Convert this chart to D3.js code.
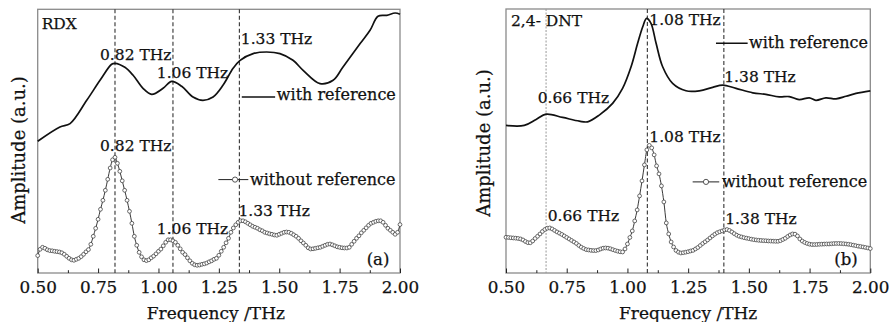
<!DOCTYPE html>
<html><head><meta charset="utf-8">
<script src="https://cdn.jsdelivr.net/npm/d3@7"></script>
<style>
body{margin:0;background:#fff}
text{font-family:"DejaVu Serif","Liberation Serif",serif;fill:#111;stroke:#111;stroke-width:0.25px}
</style>
</head><body>
<svg id="chart" width="892" height="322"></svg>
<script>
// ---------- data ----------
const xTicks = [0.50, 0.75, 1.00, 1.25, 1.50, 1.75, 2.00];
const xTickLabels = ["0.50", "0.75", "1.00", "1.25", "1.50", "1.75", "2.00"];
const xMinorTicks = [0.625, 0.875, 1.125, 1.375, 1.625, 1.875];
const freqStart = 0.50, freqStep = 0.01;  // sampling grid of the "without reference" spectra

// RDX, with reference (solid line)
const rdxWithFreq = [0.50,0.592,0.634,0.703,0.758,0.806,0.82,0.861,0.895,0.936,0.972,1.019,1.055,1.096,1.143,1.184,1.226,1.267,1.309,1.338,1.392,1.448,1.503,1.557,1.599,1.669,1.723,1.764,1.835,1.876,1.909,1.945,1.980,2.00];
const rdxWithAmp  = [131.7,146,149.4,172.7,192.7,208.7,209.7,205.7,197.7,184.7,178.7,184.7,191.7,186.7,176,172.7,176,187.7,204.7,212.7,219.4,221,219.4,212.7,202.7,189.4,192.7,206,229.4,242.7,256.7,257.7,260,258.7];

// RDX, without reference (line + circles), 0.50..2.00 step 0.01
const rdxWithoutAmp = [
17.4,23.7,25.7,24.7,23.2,22.4,22.2,21.7,21.4,21.0,
20.2,18.7,16.7,14.7,13.2,12.7,13.7,14.7,16.4,18.7,
21.2,23.4,28.7,36.7,44.7,53.7,63.7,72.7,82.7,93.7,
105,113.2,115.7,109.7,101.7,92.2,82.7,72.7,61.7,49.7,
36.7,27.7,20.7,16.2,13.2,12.4,13.2,15.2,16.9,19.2,
21.7,23.9,27.2,30.7,33.2,33.2,32.2,30.7,27.7,24.2,
20.7,18.4,15.2,12.2,9.7,8.2,7.7,8.0,8.7,9.2,
10,11.2,12.2,13.7,14.7,17.7,21.7,25.7,30.2,34.7,
40.7,45,48.2,50.7,52.2,52.2,51.2,49.7,48.2,46.7,
45.7,44.7,43.2,42.2,40.7,40,39.2,38.7,38,37.7,
38.7,39.7,40.7,41,40.7,39.7,38.2,36.7,34.7,32.2,
30,27.7,25.2,24,24.2,24.7,25.2,25.7,26.7,27.7,
28.7,29,28.2,27.2,26.2,25.7,25.2,25,25,25.7,
28.7,31.7,34.7,37.2,40.2,42.7,45.2,47.7,49.7,50.7,
51.7,52.2,52.2,50.7,47.7,44.7,42.7,40.7,38.7,40.7,
48.4];

// 2,4-DNT, with reference (solid line)
const dntWithFreq = [0.50,0.575,0.624,0.665,0.733,0.802,0.836,0.884,0.939,0.980,1.015,1.042,1.063,1.079,1.097,1.118,1.145,1.186,1.241,1.296,1.351,1.392,1.447,1.516,1.570,1.625,1.666,1.707,1.749,1.776,1.817,1.859,1.900,1.941,2.00];
const dntWithAmp  = [147.4,147.4,153.4,158.7,155.4,151.7,151,157.7,169.4,184.4,206,229.4,246,254.4,249.4,229.4,206,189.4,182,182,185.4,187.7,184.4,180,178.4,176,176.2,173.2,175,172.5,175,174,176.5,179.4,182];

// 2,4-DNT, without reference (line + circles), 0.50..2.00 step 0.01
const dntWithoutAmp = [
35.7,35.5,35.2,35,34.8,34.5,34,33,31.5,30.3,
30.2,32,34.5,36.7,39,41.5,43.5,44.7,45,44,
42.5,41,39.8,38.5,37,35.5,34,32.5,31,29.5,
27.5,25.8,24.5,23.4,23,22.6,22.4,22.4,23,24,
24.8,25,24.8,24.2,23.3,22.5,21.8,21.2,21,24,
29,35.5,42,52,63,77,92,108,123,127.5,
125,118,107,99,87,71,50,39,31,26,
22.5,20.8,20,20.3,20.8,21.3,22,22.6,24,25.5,
27.5,29.5,31.2,33,35,37,38.8,40.3,41.2,42,
43,43.4,42.5,41,39.3,37.8,36.7,36,35.3,34.8,
34.3,33.8,33.3,33,32.7,32.5,32.3,32.2,32,31.9,
31.8,31.7,31.7,32.3,33.5,34.7,36.5,38,39,38.8,
37,34,31.9,30.5,29.5,28.8,28.4,28.4,28.5,28.7,
28.8,28.9,29,29,29.2,29.4,29.5,29.5,29.4,29.2,
29,28.7,28.3,27.8,27.3,26.8,26.4,26,25.5,25,
24.4];

const rdxPeakLines = [0.82, 1.06, 1.335];
const dntPeakLines = [0.665, 1.082, 1.397];

// annotations: [text, freq, amp]
const rdxNotes = [["RDX",0.5166,244.4],["0.82 THz",0.758,213.4],["1.06 THz",0.993,195.4],["1.33 THz",1.341,229.4],
                  ["0.82 THz",0.758,122],["1.33 THz",1.331,56.7],["1.06 THz",0.993,39],["(a)",1.862,7.7]];
const dntNotes = [["2,4- DNT",0.5206,246.7],["1.08 THz",1.090,247.7],["1.38 THz",1.3987,191],["0.66 THz",0.6305,169.4],
                  ["1.08 THz",1.090,131],["0.66 THz",0.6717,52.4],["1.38 THz",1.4028,49],["(b)",1.8516,8.4]];
const legendWith = "with reference", legendWithout = "without reference";

// ---------- layout ----------
const svg = d3.select("#chart");
const panels = [
  {x0:37.7, x1:400, y0:9.3, y1:273, withF:rdxWithFreq, withA:rdxWithAmp, withoutA:rdxWithoutAmp, lines:rdxPeakLines,
   lineStyles:["dash","dash","dash"], notes:rdxNotes,
   legW:{f0:1.345,f1:1.483,a:176,tf:1.490,ta:172.7}, legWo:{f0:1.248,f1:1.372,a:93.4,cf:1.317,tf:1.379,ta:88.4},
   yTitle:{x:25,y:150}, xTitleDx:-3},
  {x0:506, x1:870.3, y0:9, y1:273, withF:dntWithFreq, withA:dntWithAmp, withoutA:dntWithoutAmp, lines:dntPeakLines,
   lineStyles:["dot","dash","dash"], notes:dntNotes,
   legW:{f0:1.3646,f1:1.495,a:229.4,tf:1.5004,ta:225}, legWo:{f0:1.2686,f1:1.378,a:91,cf:1.3235,tf:1.389,ta:85.7},
   yTitle:{x:490,y:143}, xTitleDx:0}
];

panels.forEach(p => {
  const x = d3.scaleLinear().domain([0.5, 2.0]).range([p.x0, p.x1]);
  const y = d3.scaleLinear().domain([0, 263.7]).range([p.y1, p.y0]);
  const g = svg.append("g");

  // frame
  g.append("rect").attr("x", p.x0).attr("y", p.y0).attr("width", p.x1 - p.x0).attr("height", p.y1 - p.y0)
    .attr("fill", "none").attr("stroke", "#8a8a8a").attr("stroke-width", 1.3);

  // bottom axis: inward ticks
  const ax = g.append("g").attr("transform", `translate(0,${p.y1})`)
    .call(d3.axisBottom(x).tickValues(xTicks).tickSizeInner(-4.5).tickSizeOuter(0)
      .tickFormat((d, i) => xTickLabels[i]));
  ax.select(".domain").remove();
  ax.selectAll(".tick line").attr("stroke", "#222").attr("stroke-width", 1);
  ax.selectAll(".tick text").attr("y", 19.5).attr("dy", 0).attr("font-size", 16.8)
    .attr("font-family", "DejaVu Serif").attr("fill", "#111");
  const axm = g.append("g").attr("transform", `translate(0,${p.y1})`)
    .call(d3.axisBottom(x).tickValues(xMinorTicks).tickSizeInner(-2.8).tickSizeOuter(0).tickFormat(""));
  axm.select(".domain").remove();
  axm.selectAll(".tick line").attr("stroke", "#222").attr("stroke-width", 1);

  // peak lines
  p.lines.forEach((f, i) => {
    const dot = p.lineStyles[i] === "dot";
    g.append("line").attr("x1", x(f)).attr("x2", x(f)).attr("y1", p.y0).attr("y2", p.y1)
      .attr("stroke", dot ? "#999" : "#333").attr("stroke-width", dot ? 1 : 1.1)
      .attr("stroke-dasharray", dot ? "2,1.5" : "4,2.5");
  });

  // with reference line
  const withData = p.withF.map((f, i) => [f, p.withA[i]]);
  g.append("path").datum(withData)
    .attr("d", d3.line().x(d => x(d[0])).y(d => y(d[1])).curve(d3.curveCatmullRom.alpha(0.5)))
    .attr("fill", "none").attr("stroke", "#111").attr("stroke-width", 1.7);

  // without reference line + circles
  const woData = p.withoutA.map((a, i) => [freqStart + i * freqStep, a]);
  g.append("path").datum(woData)
    .attr("d", d3.line().x(d => x(d[0])).y(d => y(d[1])).curve(d3.curveMonotoneX))
    .attr("fill", "none").attr("stroke", "#222").attr("stroke-width", 0.9);
  g.selectAll("circle.wo").data(woData).join("circle").attr("class", "wo")
    .attr("cx", d => x(d[0])).attr("cy", d => y(d[1])).attr("r", 1.9)
    .attr("fill", "#fff").attr("stroke", "#444").attr("stroke-width", 0.8);

  // annotations
  p.notes.forEach(n => {
    g.append("text").attr("x", x(n[1])).attr("y", y(n[2])).attr("font-size", n[0] === "(a)" || n[0] === "(b)" ? 16.5 : 15.5)
      .text(n[0]);
  });

  // legends
  g.append("line").attr("x1", x(p.legW.f0)).attr("x2", x(p.legW.f1)).attr("y1", y(p.legW.a)).attr("y2", y(p.legW.a))
    .attr("stroke", "#111").attr("stroke-width", 1.5);
  g.append("text").attr("x", x(p.legW.tf)).attr("y", y(p.legW.ta)).attr("font-size", 16).text(legendWith);
  g.append("line").attr("x1", x(p.legWo.f0)).attr("x2", x(p.legWo.f1)).attr("y1", y(p.legWo.a)).attr("y2", y(p.legWo.a))
    .attr("stroke", "#222").attr("stroke-width", 1);
  g.append("circle").attr("cx", x(p.legWo.cf)).attr("cy", y(p.legWo.a)).attr("r", 2.6)
    .attr("fill", "#fff").attr("stroke", "#444").attr("stroke-width", 0.9);
  g.append("text").attr("x", x(p.legWo.tf)).attr("y", y(p.legWo.ta)).attr("font-size", 16).text(legendWithout);

  // axis titles
  g.append("text").attr("x", (p.x0 + p.x1) / 2 + p.xTitleDx).attr("y", 318.5).attr("text-anchor", "middle")
    .attr("font-size", 17).text("Frequency /THz");
  g.append("text").attr("transform", `translate(${p.yTitle.x},${p.yTitle.y}) rotate(-90)`)
    .attr("text-anchor", "middle").attr("font-size", 18).text("Amplitude (a.u.)");
});
</script>
</body></html>
